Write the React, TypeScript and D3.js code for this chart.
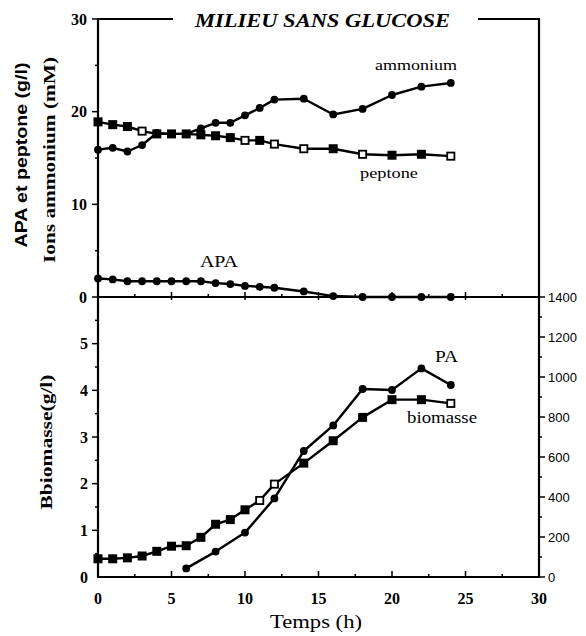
import React from "react";
import * as d3 from "d3";

// ---- data ----
const hours = [0, 1, 2, 3, 4, 5, 6, 7, 8, 9, 10, 11, 12, 14, 16, 18, 20, 22, 24];
const ammonium = [15.9, 16.1, 15.7, 16.4, 17.7, 17.6, 17.6, 18.2, 18.8, 18.8, 19.6, 20.4, 21.3, 21.4, 19.7, 20.3, 21.8, 22.7, 23.1];
const peptone = [18.9, 18.6, 18.4, 17.9, 17.6, 17.6, 17.6, 17.5, 17.4, 17.2, 16.9, 16.9, 16.5, 16.0, 16.0, 15.4, 15.3, 15.4, 15.2];
const apa = [2.0, 1.9, 1.7, 1.7, 1.7, 1.7, 1.7, 1.7, 1.5, 1.4, 1.2, 1.1, 1.0, 0.6, 0.1, 0, 0, 0, 0];
const biomasse = [0.39, 0.39, 0.41, 0.45, 0.55, 0.66, 0.67, 0.85, 1.13, 1.23, 1.44, 1.64, 1.99, 2.44, 2.92, 3.42, 3.8, 3.8, 3.72];
const paHours = [6, 8, 10, 12, 14, 16, 18, 20, 22, 24];
const pa = [43, 127, 222, 393, 630, 758, 940, 935, 1043, 960];
const peptoneOpen = [3, 10, 12, 14, 18, 24];
const biomasseOpen = [11, 12, 24];

const xTicks = [0, 5, 10, 15, 20, 25, 30];
const topTicks = [0, 10, 20, 30];
const botTicks = [0, 1, 2, 3, 4, 5];
const rightTicks = [0, 200, 400, 600, 800, 1000, 1200, 1400];

const SERIF = "'Liberation Serif', 'DejaVu Serif', serif";
const SANS = "'Liberation Sans', Arial, sans-serif";

export default function App() {
  const x = d3.scaleLinear().domain([0, 30]).range([98, 539]);
  const yTop = d3.scaleLinear().domain([0, 30]).range([297, 19]);
  const yBot = d3.scaleLinear().domain([0, 6]).range([577, 297]);
  const yR = d3.scaleLinear().domain([0, 1400]).range([577, 297]);

  const lineTop = (vals: number[]) =>
    d3.line<number>().x((_, i) => x(hours[i])).y((v) => yTop(v))(vals) || "";
  const lineBot = d3.line<number>().x((_, i) => x(hours[i])).y((v) => yBot(v))(biomasse) || "";
  const linePA = d3.line<number>().x((_, i) => x(paHours[i])).y((v) => yR(v))(pa) || "";

  const stroke = "#000";
  const lw = 2.4;

  const circles = (xs: number[], ys: number[]) =>
    xs.map((cx, i) => <circle key={i} cx={cx} cy={ys[i]} r={3.9} fill="#000" />);
  const squares = (hs: number[], ys: number[], open: number[]) =>
    hs.map((h, i) => {
      const isOpen = open.includes(h);
      return (
        <rect
          key={i}
          x={x(h) - 3.6}
          y={ys[i] - 3.6}
          width={7.2}
          height={7.2}
          fill={isOpen ? "#fff" : "#000"}
          stroke="#000"
          strokeWidth={1.8}
        />
      );
    });

  const minorX = d3.range(0, 30.01, 2.5);
  const minorTop = d3.range(0, 30.01, 5);
  const minorBot = d3.range(0.5, 5.51, 0.5);
  const minorR = d3.range(0, 1400.1, 100);

  return (
    <svg width={586} height={636} style={{ position: "absolute", left: 0, top: 0, background: "#fff" }}>
      <rect x={0} y={0} width={586} height={636} fill="#fff" />
      {/* frame */}
      <g stroke={stroke} strokeWidth={2.2} fill="none">
        <line x1={98} y1={19} x2={98} y2={578} />
        <line x1={539} y1={19} x2={539} y2={578} />
        <line x1={97} y1={577} x2={540} y2={577} />
        <line x1={97} y1={297} x2={540} y2={297} />
        <line x1={97} y1={19} x2={173} y2={19} />
        <line x1={478} y1={19} x2={540} y2={19} />
      </g>

      {/* x ticks bottom (inward) and middle line */}
      <g stroke={stroke} strokeWidth={1.5}>
        {minorX.map((t) => {
          const major = t % 5 === 0;
          return (
            <g key={t}>
              <line x1={x(t)} x2={x(t)} y1={577} y2={577 - (major ? 6 : 3)} />
              <line x1={x(t)} x2={x(t)} y1={297} y2={297 - (major ? 5 : 3)} />
              {major && <line x1={x(t)} x2={x(t)} y1={297} y2={300} />}
            </g>
          );
        })}
      </g>
      {xTicks.map((t) => (
        <text key={t} x={x(t)} y={604} textAnchor="middle" fontFamily={SERIF} fontWeight="bold" fontSize={16}>
          {t}
        </text>
      ))}

      {/* y ticks */}
      <g stroke={stroke} strokeWidth={1.5}>
        {minorTop.map((t) => (
          <line key={t} x1={98} x2={98 - (t % 10 === 0 ? 6 : 3)} y1={yTop(t)} y2={yTop(t)} />
        ))}
        {minorBot.map((t) => (
          <line key={t} x1={98} x2={98 - (Number.isInteger(t) ? 6 : 3)} y1={yBot(t)} y2={yBot(t)} />
        ))}
        {minorR.map((t) => (
          <line key={t} x1={539} x2={539 + (t % 200 === 0 ? 6 : 3)} y1={yR(t)} y2={yR(t)} />
        ))}
      </g>
      {topTicks.map((t) => (
        <text key={t} x={87} y={yTop(t) + 5.5} textAnchor="end" fontFamily={SERIF} fontWeight="bold" fontSize={16}>
          {t}
        </text>
      ))}
      {botTicks.map((t) => (
        <text key={t} x={88} y={yBot(t) + 5.5} textAnchor="end" fontFamily={SERIF} fontWeight="bold" fontSize={16}>
          {t}
        </text>
      ))}
      {rightTicks.map((t) => (
        <text key={t} x={548} y={yR(t) + 4.5} textAnchor="start" fontFamily={SANS} fontSize={13}>
          {t}
        </text>
      ))}

      {/* title */}
      <text x={195} y={27} fontFamily={SERIF} fontWeight="bold" fontStyle="italic" fontSize={18} textLength={255} lengthAdjust="spacingAndGlyphs">
        MILIEU SANS GLUCOSE
      </text>

      {/* axis titles */}
      <text transform="translate(27,155) rotate(-90)" textAnchor="middle" fontFamily={SANS} fontWeight="bold" fontSize={16} textLength={185} lengthAdjust="spacingAndGlyphs">
        APA et peptone (g/l)
      </text>
      <text transform="translate(55,160) rotate(-90)" textAnchor="middle" fontFamily={SERIF} fontWeight="bold" fontSize={17} textLength={206} lengthAdjust="spacingAndGlyphs">
        Ions ammonium (mM)
      </text>
      <text transform="translate(52,442) rotate(-90)" textAnchor="middle" fontFamily={SERIF} fontWeight="bold" fontSize={16} textLength={135} lengthAdjust="spacingAndGlyphs">
        Bbiomasse(g/l)
      </text>
      <text x={316} y={628} textAnchor="middle" fontFamily={SERIF} fontSize={18} textLength={92} lengthAdjust="spacingAndGlyphs">
        Temps (h)
      </text>

      {/* series */}
      <g fill="none" stroke={stroke} strokeWidth={lw} strokeLinejoin="round">
        <path d={lineTop(ammonium)} />
        <path d={lineTop(peptone)} />
        <path d={lineTop(apa)} />
        <path d={lineBot} />
        <path d={linePA} />
      </g>
      {circles(hours.map((h) => x(h)), ammonium.map((v) => yTop(v)))}
      {circles(hours.map((h) => x(h)), apa.map((v) => yTop(v)))}
      {squares(hours, peptone.map((v) => yTop(v)), peptoneOpen)}
      {squares(hours, biomasse.map((v) => yBot(v)), biomasseOpen)}
      {circles(paHours.map((h) => x(h)), pa.map((v) => yR(v)))}

      {/* series labels */}
      <text x={375} y={70} fontFamily={SERIF} fontSize={15} textLength={82} lengthAdjust="spacingAndGlyphs">ammonium</text>
      <text x={360} y={178} fontFamily={SERIF} fontSize={15} textLength={58} lengthAdjust="spacingAndGlyphs">peptone</text>
      <text x={200} y={267} fontFamily={SERIF} fontSize={16} textLength={38} lengthAdjust="spacingAndGlyphs">APA</text>
      <text x={435} y={362} fontFamily={SERIF} fontSize={17} textLength={23} lengthAdjust="spacingAndGlyphs">PA</text>
      <text x={407} y={423} fontFamily={SERIF} fontSize={16} textLength={70} lengthAdjust="spacingAndGlyphs">biomasse</text>
    </svg>
  );
}
